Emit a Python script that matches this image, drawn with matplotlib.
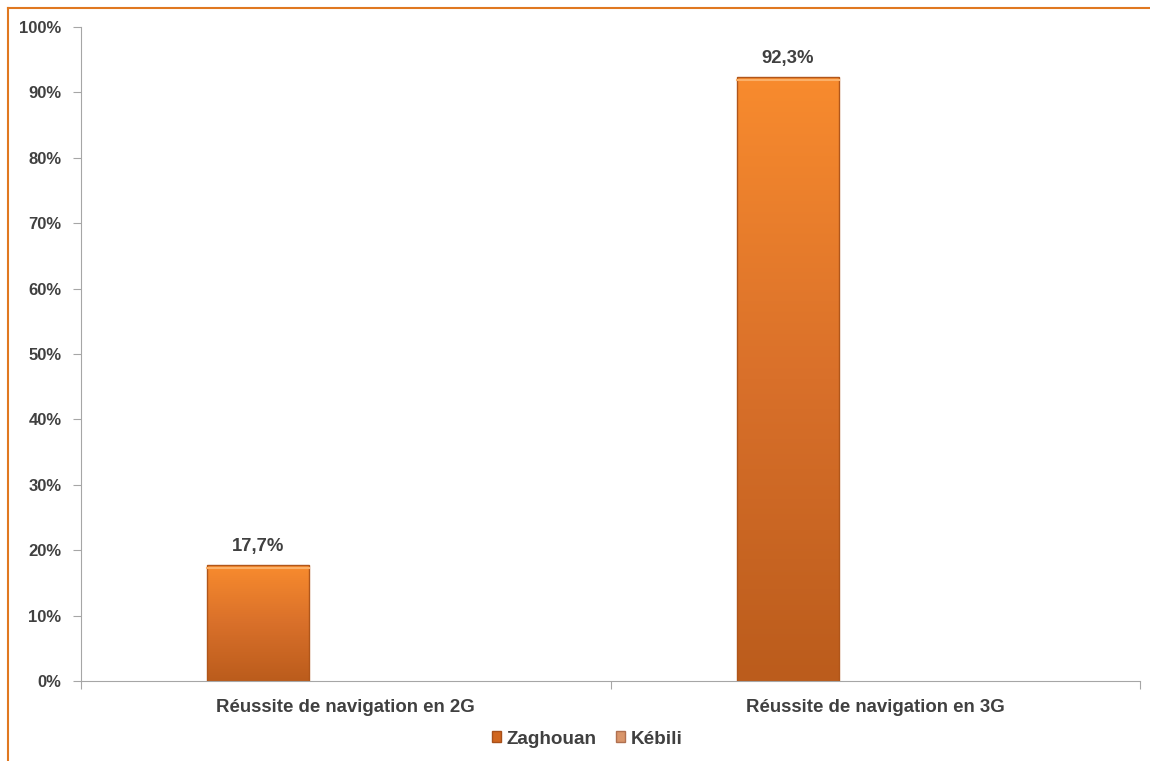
import numpy as np
import matplotlib.pyplot as plt
from matplotlib.colors import LinearSegmentedColormap
from matplotlib.lines import Line2D
from matplotlib.patches import Patch

# data
categories = ['Réussite de navigation en 2G', 'Réussite de navigation en 3G']
zaghouan = [17.7, 92.3]
kebili = [np.nan, np.nan]
series_names = ['Zaghouan', 'Kébili']
yticks = [0, 10, 20, 30, 40, 50, 60, 70, 80, 90, 100]

plt.rcParams['font.family'] = ['Liberation Sans', 'DejaVu Sans']

fig = plt.figure(figsize=(11.5, 7.61), dpi=100)
ax = fig.add_axes([81/1150, 1-681/761, (1140-81)/1150, (681-27)/761])

x = np.arange(len(categories))
w = 0.193
off_z = -0.165
off_k = 0.05

grad = LinearSegmentedColormap.from_list('g', ['#bb5c1c', '#d9702a', '#f88b2e'])
ax.set_xlim(-0.5, 1.5)
ax.set_ylim(0, 100)

for xi, v in zip(x, zaghouan):
    if np.isnan(v):
        continue
    x0 = xi + off_z - w/2
    img = np.linspace(0, 1, 256).reshape(-1, 1)
    ax.imshow(img, cmap=grad, origin='lower', aspect='auto',
              extent=[x0, x0 + w, 0, v], zorder=2)
    ax.add_patch(plt.Rectangle((x0, 0), w, v, fill=False, ec='#b0561a', lw=1.0, zorder=3))
    ax.plot([x0, x0 + w], [v - 0.4, v - 0.4], color='#fbb068', lw=1.5, zorder=3)
    ax.text(xi + off_z, v + 1.6, f'{v:.1f}%'.replace('.', ','), ha='center', va='bottom',
            fontsize=13.3, fontweight='bold', color='#404040')

for xi, v in zip(x, kebili):
    if np.isnan(v):
        continue
    ax.bar(xi + off_k, v, w, color='#d98f5f')

ax.set_xlim(-0.5, 1.5)
ax.set_ylim(0, 100)

ax.set_yticks(yticks)
ax.set_yticklabels([f'{t}%' for t in yticks], fontsize=12, fontweight='bold', color='#404040')
ax.set_xticks([-0.5, 0.5, 1.5], minor=False)
ax.set_xticklabels([])
ax.set_xticks(x, minor=True)
ax.set_xticklabels(categories, minor=True, fontsize=13.4, fontweight='bold', color='#404040')
ax.tick_params(axis='x', which='minor', length=0, pad=13)
ax.tick_params(axis='x', which='major', length=6, color='#a6a6a6', direction='out')
ax.tick_params(axis='y', length=6, color='#a6a6a6', direction='out', pad=8)

for s in ['top', 'right']:
    ax.spines[s].set_visible(False)
ax.spines['left'].set_color('#a6a6a6')
ax.spines['bottom'].set_color('#a6a6a6')

handles = [Patch(facecolor='#d0661f', edgecolor='#a8501a'),
           Patch(facecolor='#d9956a', edgecolor='#b07050')]
fig.legend(handles, series_names, loc='center', bbox_to_anchor=(587/1150, 1-739/761),
           ncol=2, frameon=False, handlelength=0.5, handleheight=0.5, handletextpad=0.3,
           columnspacing=1.0, prop={'size': 13.6, 'weight': 'bold'}, labelcolor='#404040')

# outer frame (top and left)
fig.add_artist(Line2D([8/1150, 1], [1-8/761, 1-8/761], color='#e07820', lw=1.5, transform=fig.transFigure))
fig.add_artist(Line2D([8/1150, 8/1150], [0, 1-8/761], color='#e07820', lw=1.5, transform=fig.transFigure))

fig.savefig('out.png', dpi=100)
